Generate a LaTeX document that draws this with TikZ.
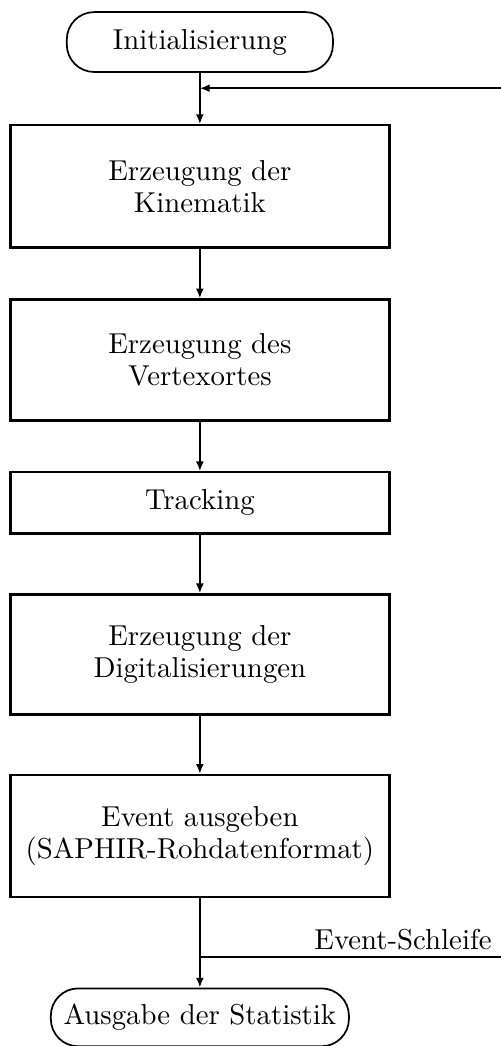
\documentclass[tikz,border=0pt]{standalone}
\usetikzlibrary{arrows.meta,calc,positioning}

\tikzset{
  stepbox/.style={draw, rectangle, line width=0.8pt, minimum width=131.6pt,
    minimum height=42.4pt, align=center, font=\fontsize{10}{11}\selectfont},
  terminal/.style={draw, rectangle, rounded corners=9.5pt, line width=0.6pt,
    minimum height=20.8pt, align=center, font=\fontsize{10}{11}\selectfont},
  flow/.style={line width=0.8pt, -{Latex[length=3.4pt,width=2.8pt]}},
  plain/.style={line width=0.8pt}
}

\begin{document}
\begin{tikzpicture}
\useasboundingbox (-69.4pt,14.6pt) rectangle (104.5pt,-348.6pt);

\node[terminal, minimum width=92.4pt] (init) at (0,0) {Initialisierung};
\node[stepbox, below=17.8pt of init] (kin) {Erzeugung der\\Kinematik};
\node[stepbox, below=17.3pt of kin, minimum height=42pt] (vtx) {Erzeugung des\\Vertexortes};
\node[stepbox, below=17.2pt of vtx, minimum height=21.2pt] (track) {Tracking};
\node[stepbox, below=20.4pt of track, minimum height=41.7pt] (digi) {Erzeugung der\\Digitalisierungen};
\node[stepbox, below=20.2pt of digi] (out) {Event ausgeben\\(SAPHIR-Rohdatenformat)};
\node[terminal, below=31pt of out, minimum width=103.5pt, minimum height=20.1pt] (stat) {Ausgabe der Statistik};

% event loop
\coordinate (fb) at ($(init.south)!0.3!(kin.north)$);
\coordinate (fbin) at ([xshift=104.5pt]fb);
\coordinate (lp) at ($(out.south)!0.66!(stat.north)$);
\coordinate (lpout) at ([xshift=104.5pt]lp);
\node[anchor=base east, inner sep=0pt, font=\fontsize{10}{11}\selectfont] (lplabel) at ([xshift=-3pt,yshift=2.8pt]lpout) {Event-Schleife};

\draw[flow] (init) -- (kin);
\draw[flow] (fbin) -- (fb);
\draw[flow] (kin) -- (vtx);
\draw[flow] (vtx) -- (track);
\draw[flow] (track) -- (digi);
\draw[flow] (digi) -- (out);
\draw[flow] (out) -- (stat);
\draw[plain] (lp) -- (lpout);
\end{tikzpicture}
\end{document}
